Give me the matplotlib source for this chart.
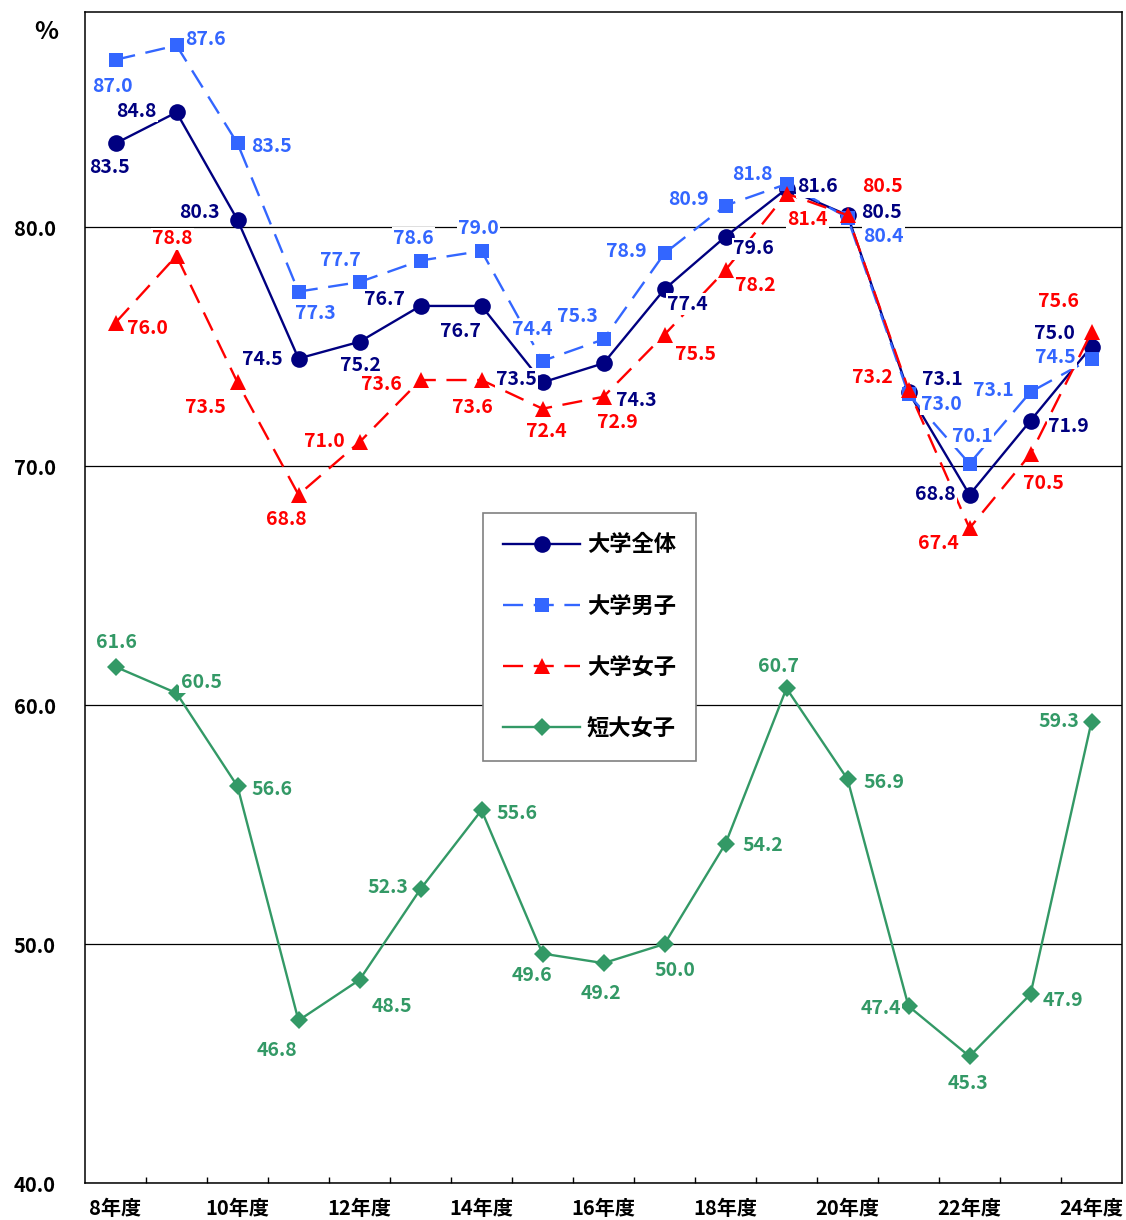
import matplotlib
matplotlib.use('Agg')
import matplotlib.pyplot as plt
import numpy as np

# ---- data ----
years = ['8年度', '9年度', '10年度', '11年度', '12年度', '13年度', '14年度', '15年度', '16年度',
         '17年度', '18年度', '19年度', '20年度', '21年度', '22年度', '23年度', '24年度']
tick_labels = ['8年度', '10年度', '12年度', '14年度', '16年度', '18年度', '20年度', '22年度', '24年度']
series_names = ['大学全体', '大学男子', '大学女子', '短大女子']
univ_all = [83.5, 84.8, 80.3, 74.5, 75.2, 76.7, 76.7, 73.5, 74.3, 77.4, 79.6, 81.6, 80.5, 73.1, 68.8, 71.9, 75.0]
univ_male = [87.0, 87.6, 83.5, 77.3, 77.7, 78.6, 79.0, 74.4, 75.3, 78.9, 80.9, 81.8, 80.4, 73.0, 70.1, 73.1, 74.5]
univ_female = [76.0, 78.8, 73.5, 68.8, 71.0, 73.6, 73.6, 72.4, 72.9, 75.5, 78.2, 81.4, 80.5, 73.2, 67.4, 70.5, 75.6]
junior_female = [61.6, 60.5, 56.6, 46.8, 48.5, 52.3, 55.6, 49.6, 49.2, 50.0, 54.2, 60.7, 56.9, 47.4, 45.3, 47.9, 59.3]
y_ticks = [40, 50, 60, 70, 80]

# ---- label offsets (pixels, right / down) ----
off_all = [(-6, 24), (-40, -1), (-38, -7), (-36, 1), (1, 24), (-36, -6), (-21, 26), (-26, -3), (33, 37),
           (23, 15), (28, 12), (31, -2), (34, -3), (34, -12), (-34, 0), (38, 6), (-37, -13)]
off_male = [(-3, 27), (29, -6), (34, 3), (17, 22), (-19, -22), (-7, -22), (-3, -22), (-10, -31), (-26, -23),
            (-38, -2), (-37, -6), (-34, -10), (36, 19), (33, 10), (3, -27), (-37, -1), (-36, -1)]
off_female = [(32, 6), (-4, -17), (-32, 25), (-12, 25), (-35, -1), (-39, 4), (-9, 27), (4, 23), (14, 26),
              (31, 20), (30, 15), (21, 26), (35, -29), (-36, -12), (-31, 15), (13, 29), (-33, -31)]
off_junior = [(1, -24), (25, -11), (35, 3), (-22, 30), (32, 27), (-33, -2), (36, 3), (-10, 22), (-3, 30),
              (10, 26), (37, 2), (-8, -22), (36, 3), (-28, 2), (-2, 27), (32, 6), (-33, 0)]

plt.rcParams['font.family'] = ['Noto Sans CJK JP', 'DejaVu Sans']

W, H = 1126, 1220
fig = plt.figure(figsize=(W / 100, H / 100), dpi=100)
ax = fig.add_axes([85 / W, (H - 1183) / H, (1122 - 85) / W, (1183 - 12) / H])

x = np.arange(len(years))
styles = [
    dict(color='#000080', marker='o', ms=12, ls='-'),
    dict(color='#3366FF', marker='s', ms=10, ls=(0, (8.5, 4.5))),
    dict(color='#FF0000', marker='^', ms=11, ls=(0, (8.5, 4.5))),
    dict(color='#339966', marker='D', ms=9.2, ls='-'),
]
data = [univ_all, univ_male, univ_female, junior_female]
offsets = [off_all, off_male, off_female, off_junior]
label_colors = ['#000080', '#3366FF', '#FF0000', '#339966']

handles = []
for vals, st, name in zip(data, styles, series_names):
    h, = ax.plot(x, vals, color=st['color'], marker=st['marker'], ms=st['ms'], ls=st['ls'],
                 lw=1.7, mec=st['color'], mfc=st['color'], mew=0, label=name, zorder=3)
    handles.append(h)

for vals, offs, c in zip(data, offsets, label_colors):
    for i, v in enumerate(vals):
        dx, dy = offs[i]
        ax.annotate(f'{v:.1f}', (x[i], v), xytext=(dx, -dy), textcoords='offset pixels',
                    ha='center', va='center', fontsize=14, fontweight='bold', color=c,
                    bbox=dict(boxstyle='square,pad=0.08', fc='white', ec='none'), zorder=10)

ax.set_xlim(-0.5, len(years) - 0.5)
ax.set_ylim(40, 89)
ax.set_yticks(y_ticks)
ax.set_yticklabels([f'{t:.1f}' for t in y_ticks], fontsize=14.5, fontweight='bold')
ax.tick_params(axis='y', length=0, pad=21)
ax.set_xticks(x[::2])
ax.set_xticklabels(tick_labels, fontsize=14.5, fontweight='bold')
ax.tick_params(axis='x', which='major', length=0, pad=11)
ax.set_xticks(np.arange(0.5, len(years) - 1, 1.0), minor=True)
ax.tick_params(axis='x', which='minor', direction='in', length=4, width=1, color='black')
ax.yaxis.grid(True, color='black', lw=0.9, zorder=1)
ax.set_axisbelow(True)
for s in ax.spines.values():
    s.set_color('black')
    s.set_linewidth(1.1)

leg = ax.legend(handles=handles, loc='upper left',
                bbox_to_anchor=((483 - 85) / 1037, (1183 - 513) / 1171),
                borderaxespad=0, prop=dict(weight='bold', size=16),
                handlelength=3.45, handletextpad=0.3, labelspacing=1.72, borderpad=0.92,
                numpoints=1, fancybox=False, framealpha=1, edgecolor='#808080')
leg.get_frame().set_linewidth(1.2)
leg.set_zorder(20)

fig.text(46 / W, 1 - 32 / H, '%', ha='center', va='center', fontsize=18, fontweight='bold')

fig.savefig('out.png', dpi=100)
